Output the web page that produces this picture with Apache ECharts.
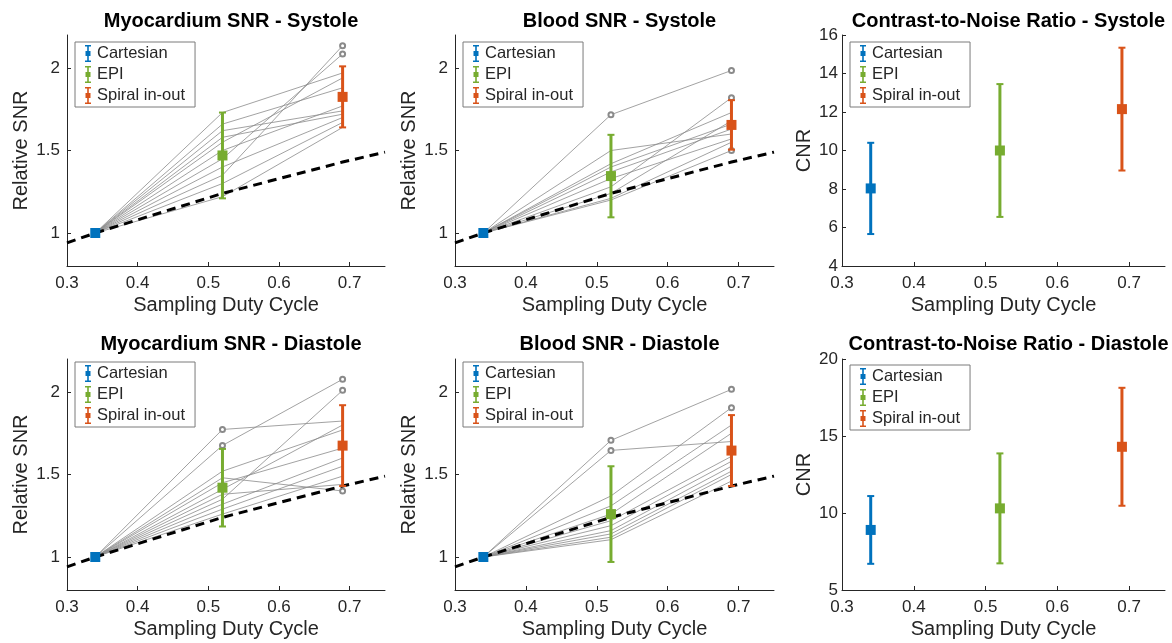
<!DOCTYPE html>
<html>
<head>
<meta charset="utf-8">
<script src="https://cdn.jsdelivr.net/npm/echarts@6/dist/echarts.min.js"></script>
<style>
  html, body { margin: 0; padding: 0; background: #fff; }
  #main { width: 1172px; height: 643px; }
</style>
</head>
<body>
<div id="main"></div>
<script>
// sampling duty cycle of each method
var duty = [0.34, 0.52, 0.69];
var methods = ['Cartesian', 'EPI', 'Spiral in-out'];
var methodColors = ['#0072BD', '#77AC30', '#D95319'];

// tick labels
var xTicks = [0.3, 0.4, 0.5, 0.6, 0.7];
var snrTicks = [1, 1.5, 2];
var cnrSysTicks = [4, 6, 8, 10, 12, 14, 16];
var cnrDiaTicks = [5, 10, 15, 20];

// theoretical SNR gain (dashed line)
var refX = [0.3, 0.34, 0.52, 0.69, 0.75];
var refY = [0.94, 1, 1.24, 1.43, 1.49];

// per-subject relative SNR (Cartesian = 1)
var myoSysEPI    = [1.73, 1.66, 1.62, 1.58, 1.55, 1.50, 1.45, 1.40, 1.35, 1.30, 1.22];
var myoSysSpiral = [1.97, 1.88, 1.74, 1.72, 1.94, 1.77, 2.085, 1.70, 2.135, 1.67, 1.64];
var bloodSysEPI    = [1.717, 1.50, 1.42, 1.40, 1.37, 1.33, 1.28, 1.24, 1.21, 1.20];
var bloodSysSpiral = [1.985, 1.60, 1.73, 1.66, 1.63, 1.57, 1.82, 1.68, 1.55, 1.50];
var myoDiaEPI    = [1.773, 1.676, 1.52, 1.48, 1.45, 1.41, 1.38, 1.35, 1.32, 1.29, 1.26];
var myoDiaSpiral = [1.824, 2.077, 1.77, 1.40, 1.66, 1.80, 1.44, 2.01, 1.60, 1.55, 1.49];
var bloodDiaEPI    = [1.707, 1.646, 1.37, 1.31, 1.26, 1.22, 1.19, 1.16, 1.14, 1.12, 1.105];
var bloodDiaSpiral = [2.016, 1.70, 1.905, 1.80, 1.75, 1.61, 1.58, 1.55, 1.52, 1.50, 1.46];

// group means and error bar half-widths (Cartesian, EPI, Spiral)
var myoSysMean = [1, 1.47, 1.825],   myoSysErr = [0, 0.26, 0.185];
var bloodSysMean = [1, 1.345, 1.655], bloodSysErr = [0, 0.25, 0.15];
var cnrSysMean = [8.03, 10.0, 12.15], cnrSysErr = [2.37, 3.45, 3.19];
var myoDiaMean = [1, 1.42, 1.675],   myoDiaErr = [0, 0.235, 0.245];
var bloodDiaMean = [1, 1.26, 1.645], bloodDiaErr = [0, 0.29, 0.215];
var cnrDiaMean = [8.9, 10.3, 14.3],  cnrDiaErr = [2.2, 3.57, 3.83];

var panels = [
  { title: 'Myocardium SNR - Systole', epi: myoSysEPI, spiral: myoSysSpiral, mean: myoSysMean, err: myoSysErr, snr: true },
  { title: 'Blood SNR - Systole', epi: bloodSysEPI, spiral: bloodSysSpiral, mean: bloodSysMean, err: bloodSysErr, snr: true },
  { title: 'Contrast-to-Noise Ratio - Systole', mean: cnrSysMean, err: cnrSysErr, snr: false, yMin: 4, yMax: 16, ticks: cnrSysTicks },
  { title: 'Myocardium SNR - Diastole', epi: myoDiaEPI, spiral: myoDiaSpiral, mean: myoDiaMean, err: myoDiaErr, snr: true },
  { title: 'Blood SNR - Diastole', epi: bloodDiaEPI, spiral: bloodDiaSpiral, mean: bloodDiaMean, err: bloodDiaErr, snr: true },
  { title: 'Contrast-to-Noise Ratio - Diastole', mean: cnrDiaMean, err: cnrDiaErr, snr: false, yMin: 5, yMax: 20, ticks: cnrDiaTicks }
];

var gridLefts = [67, 455, 842];
var gridWidths = [318, 319, 323];
var gridTops = [35, 359];
var gridH = 231;
var font = 'Liberation Sans, Arial, Helvetica, sans-serif';
var ink = '#262626';

var errIcon = 'path://M1,0h6v1.5h-6z M3.2,0h1.6v17h-1.6z M1,15.5h6v1.5h-6z M1.5,6h5v5h-5z';

function renderErr(params, api) {
    var x = api.value(0), m = api.value(1), e = api.value(2);
    var c = api.coord([x, m]);
    var hi = api.coord([x, m + e]);
    var lo = api.coord([x, m - e]);
    var col = api.visual('color');
    var kids = [];
    if (e > 0) {
        kids.push({ type: 'line', shape: { x1: c[0], y1: hi[1], x2: c[0], y2: lo[1] }, style: { stroke: col, lineWidth: 3 } });
        kids.push({ type: 'line', shape: { x1: c[0] - 3.5, y1: hi[1], x2: c[0] + 3.5, y2: hi[1] }, style: { stroke: col, lineWidth: 2 } });
        kids.push({ type: 'line', shape: { x1: c[0] - 3.5, y1: lo[1], x2: c[0] + 3.5, y2: lo[1] }, style: { stroke: col, lineWidth: 2 } });
    }
    kids.push({ type: 'rect', shape: { x: c[0] - 5, y: c[1] - 5, width: 10, height: 10 }, style: { fill: col } });
    return { type: 'group', children: kids };
}

// subject point; its circle is hidden behind the error bar when inside it
function subjPoint(x, v, mean, err) {
    var hidden = Math.abs(v - mean) <= err + 0.005;
    return { value: [x, v], symbol: hidden ? 'none' : 'emptyCircle' };
}

var grids = [], xAxes = [], yAxes = [], titles = [], legends = [], series = [];

panels.forEach(function (p, i) {
    var col = i % 3, row = Math.floor(i / 3);
    var left = gridLefts[col], top = gridTops[row], w = gridWidths[col];
    grids.push({ left: left, top: top, width: w, height: gridH });
    titles.push({
        text: p.title, left: left + w / 2, top: row === 0 ? 6 : 329, textAlign: 'center',
        textStyle: { fontFamily: font, fontSize: 20, fontWeight: 'bold', color: '#000' }
    });
    legends.push({
        data: methods, left: left + 8, top: row === 0 ? 42 : 362 + (col === 2 ? 3 : 0),
        orient: 'vertical', icon: errIcon, itemWidth: 8, itemHeight: 17, itemGap: 4, itemTextGap: 11,
        padding: [3, 10, 3, 10], backgroundColor: '#fff', borderColor: '#7a7a7a', borderWidth: 1,
        textStyle: { fontFamily: font, fontSize: 16.5, color: ink }, selectedMode: false
    });
    xAxes.push({
        type: 'value', gridIndex: i, min: 0.3, max: 0.75,
        name: 'Sampling Duty Cycle', nameLocation: 'middle', nameGap: 29,
        nameTextStyle: { fontFamily: font, fontSize: 20, color: ink },
        axisLine: { onZero: false, lineStyle: { color: ink, width: 1 } },
        axisTick: { inside: true, length: 4, customValues: xTicks, lineStyle: { color: ink } },
        axisLabel: { customValues: xTicks, margin: 9, fontFamily: font, fontSize: 17, color: ink,
            formatter: function (v) { return v.toFixed(1); } },
        splitLine: { show: false }
    });
    var yt = p.snr ? snrTicks : p.ticks;
    yAxes.push({
        type: 'value', gridIndex: i, min: p.snr ? 0.8 : p.yMin, max: p.snr ? 2.2 : p.yMax,
        name: p.snr ? 'Relative SNR' : 'CNR', nameLocation: 'middle', nameGap: p.snr ? 36 : 28,
        nameTextStyle: { fontFamily: font, fontSize: 20, color: ink },
        axisLine: { show: true, onZero: false, lineStyle: { color: ink, width: 1 } },
        axisTick: { show: true, inside: true, length: 4, customValues: yt, lineStyle: { color: ink } },
        axisLabel: { customValues: yt, margin: p.snr ? 7 : 4, fontFamily: font, fontSize: 17, color: ink },
        splitLine: { show: false }
    });

    if (p.snr) {
        // one gray line per subject
        p.epi.forEach(function (e, k) {
            series.push({
                type: 'line', xAxisIndex: i, yAxisIndex: i, z: 2, silent: true,
                data: [
                    { value: [duty[0], 1], symbol: 'none' },
                    subjPoint(duty[1], e, p.mean[1], p.err[1]),
                    subjPoint(duty[2], p.spiral[k], p.mean[2], p.err[2])
                ],
                symbol: 'emptyCircle', symbolSize: 5, showSymbol: true,
                lineStyle: { color: '#8a8a8a', width: 0.8 },
                itemStyle: { color: '#8a8a8a', borderWidth: 0.8 }
            });
        });
        series.push({
            type: 'line', xAxisIndex: i, yAxisIndex: i, z: 3, silent: true,
            data: refX.map(function (x, k) { return [x, refY[k]]; }),
            symbol: 'none', lineStyle: { color: '#000', width: 3, type: [9, 6] }
        });
    }
    methods.forEach(function (name, m) {
        series.push({
            type: 'custom', name: name, xAxisIndex: i, yAxisIndex: i, z: 4,
            itemStyle: { color: methodColors[m] },
            dimensions: ['x', 'mean', 'err'], encode: { x: 0, y: 1 },
            renderItem: renderErr,
            data: [[duty[m], p.mean[m], p.err[m]]]
        });
    });
});

var myChart = echarts.init(document.getElementById('main'));
myChart.setOption({
    animation: false,
    backgroundColor: '#fff',
    title: titles,
    legend: legends,
    grid: grids,
    xAxis: xAxes,
    yAxis: yAxes,
    series: series
});
</script>
</body>
</html>
